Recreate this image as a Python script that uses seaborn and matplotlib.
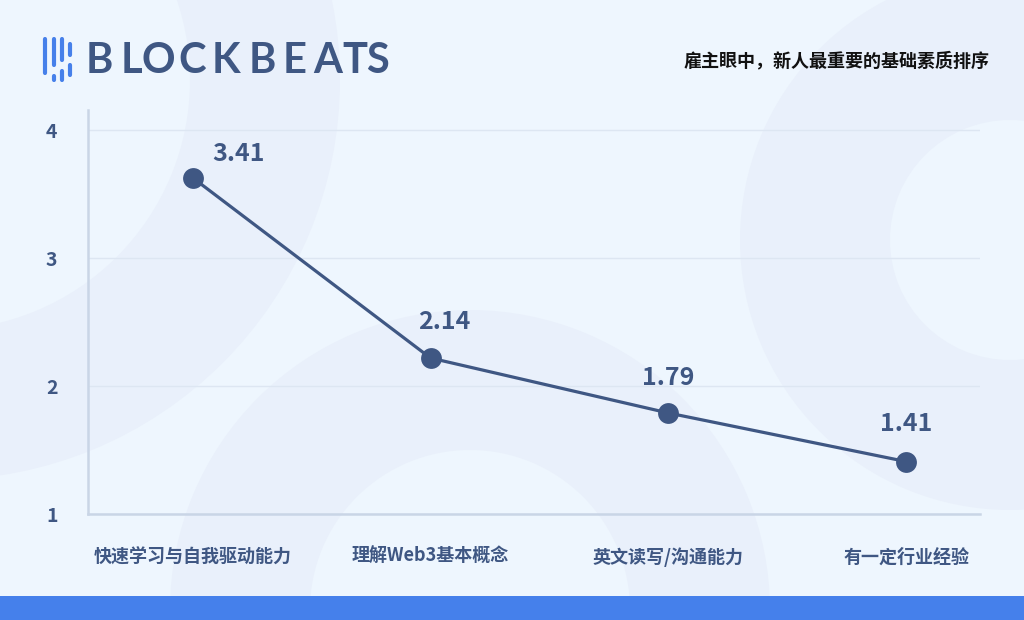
import matplotlib
matplotlib.use("Agg")
import matplotlib.pyplot as plt
import seaborn as sns
import pandas as pd
from matplotlib.patches import Wedge, Rectangle

# data
categories = ["快速学习与自我驱动能力", "理解Web3基本概念", "英文读写/沟通能力", "有一定行业经验"]
plot_values = [3.63, 2.22, 1.79, 1.41]
value_labels = ["3.41", "2.14", "1.79", "1.41"]
label_offsets = [(33, 17), (10, 26), (0, 25), (0, 27)]  # points
title = "雇主眼中，新人最重要的基础素质排序"

df = pd.DataFrame({"cat": categories, "val": plot_values})

sns.set_theme(style="white")
plt.rcParams["font.family"] = ["Noto Sans CJK SC", "DejaVu Sans"]
plt.rcParams["axes.unicode_minus"] = False

NAVY = "#3F5783"
BLUE = "#4680EA"
BG = "#EEF6FE"
SHAPE = "#E9F0FB"

fig = plt.figure(figsize=(10.24, 6.2), dpi=100, facecolor=BG)

# background layer in pixel coords
bg = fig.add_axes([0, 0, 1, 1], zorder=0)
bg.set_xlim(0, 1024)
bg.set_ylim(620, 0)
bg.axis("off")
bg.add_patch(Wedge((-60, 80), 400, 0, 360, width=150, color=SHAPE, lw=0))
bg.add_patch(Wedge((470, 610), 300, 0, 360, width=140, color=SHAPE, lw=0))
bg.add_patch(Wedge((1010, 240), 270, 0, 360, width=150, color=SHAPE, lw=0))
bg.add_patch(Rectangle((0, 596), 1024, 24, color="#4580EB", lw=0))

# logo icon
bars = [(45, 37, 75), (45, 81, 81), (53.5, 37, 67), (53.5, 74, 82),
        (62, 37, 62), (62, 69, 82), (70, 42, 57), (70, 63, 77)]
for x, y0, y1 in bars:
    bg.plot([x, x], [y0 + 2, y1 - 2] if y1 > y0 else [y0, y1], color=BLUE, lw=3.0,
            solid_capstyle="round")
# logo text
for ch, cx in zip("BLOCKBEATS", [99, 131, 158, 192, 226, 262, 295, 328, 355, 377]):
    bg.text(cx, 61, ch, ha="center", va="center", fontsize=30, color=NAVY,
            fontweight="bold", family=["Lato", "DejaVu Sans"])

bg.text(990, 61, title, ha="right", va="center", fontsize=13, fontweight="bold",
        color="#111111")

# main chart
ax = fig.add_axes([88 / 1024, 106 / 620, 892 / 1024, 404 / 620], zorder=2)
ax.set_facecolor("none")
sns.lineplot(data=df, x="cat", y="val", sort=False, ax=ax, color=NAVY, lw=2.3,
             marker="o", markersize=15, markeredgewidth=0)

for i, (v, lab, off) in enumerate(zip(plot_values, value_labels, label_offsets)):
    ax.annotate(lab, (i, v), xytext=off, textcoords="offset points", ha="center",
                va="center", fontsize=18, fontweight="bold", color=NAVY)

ax.set_xlim(-0.44, 3.31)
ax.set_ylim(1, 4.16)
ax.set_yticks([1, 2, 3, 4])
ax.set_xlabel("")
ax.set_ylabel("")
ax.grid(axis="y", color="#DDE6F2", lw=1)
ax.grid(axis="x", visible=False)
for s in ["top", "right"]:
    ax.spines[s].set_visible(False)
for s in ["left", "bottom"]:
    ax.spines[s].set_color("#C9D5E6")
    ax.spines[s].set_linewidth(1.8)
ax.tick_params(axis="y", length=0, pad=22, labelsize=14, labelcolor=NAVY)
ax.tick_params(axis="x", length=0, pad=24, labelsize=13, labelcolor=NAVY)
for t in ax.get_xticklabels() + ax.get_yticklabels():
    t.set_fontweight("bold")

fig.savefig("out.png", dpi=100, facecolor=BG)
